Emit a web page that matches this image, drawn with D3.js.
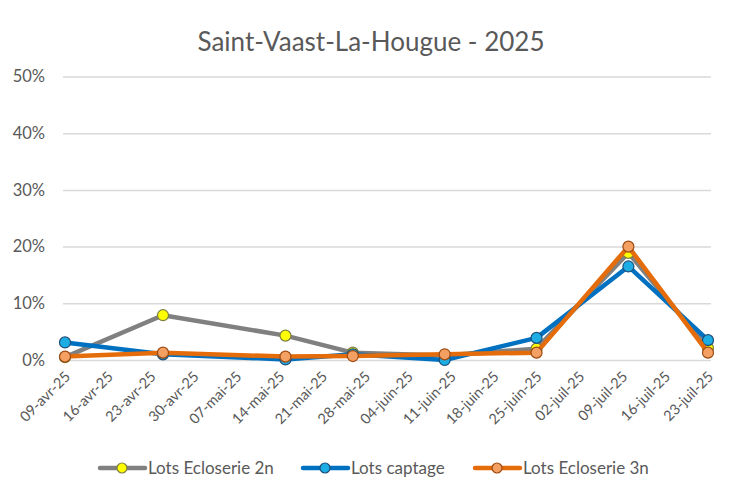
<!DOCTYPE html>
<html>
<head>
<meta charset="utf-8">
<script src="https://cdn.jsdelivr.net/npm/d3@7"></script>
<style>
    body { margin: 0; background: #fff; }
    text { font-family: Lato, "Open Sans", sans-serif; fill: #595959; }
</style>
</head>
<body>
<svg id="chart" width="744" height="498"></svg>
<script>
// sample dates and values (percent)
const sampleDates  = ["2025-04-09", "2025-04-25", "2025-05-15", "2025-05-26", "2025-06-10", "2025-06-25", "2025-07-10", "2025-07-23"];
const ecloserie2n  = [0.5, 7.9, 4.3, 1.3, 0.8, 2.0, 18.9, 2.1];
const captage      = [3.1, 1.0, 0.1, 1.0, 0.0, 3.9, 16.5, 3.5];
const ecloserie3n  = [0.6, 1.3, 0.6, 0.7, 1.0, 1.3, 20.0, 1.3];

const tickDates  = ["2025-04-09", "2025-04-16", "2025-04-23", "2025-04-30", "2025-05-07", "2025-05-14", "2025-05-21", "2025-05-28",
                    "2025-06-04", "2025-06-11", "2025-06-18", "2025-06-25", "2025-07-02", "2025-07-09", "2025-07-16", "2025-07-23"];
const tickLabels = ["09-avr-25", "16-avr-25", "23-avr-25", "30-avr-25", "07-mai-25", "14-mai-25", "21-mai-25", "28-mai-25",
                    "04-juin-25", "11-juin-25", "18-juin-25", "25-juin-25", "02-juil-25", "09-juil-25", "16-juil-25", "23-juil-25"];
const yTicks     = [0, 10, 20, 30, 40, 50];

const series = [
    { name: "Lots Ecloserie 2n", values: ecloserie2n, line: "#808080", fill: "#FFFF00", stroke: "#7F7F3F" },
    { name: "Lots captage",      values: captage,     line: "#0070C0", fill: "#1CADE4", stroke: "#1F4E79" },
    { name: "Lots Ecloserie 3n", values: ecloserie3n, line: "#E46C0A", fill: "#F4A062", stroke: "#9C4A12" }
];

const parse = d3.timeParse("%Y-%m-%d");
const svg = d3.select("#chart");

const plot = { left: 63, right: 711, top: 76.5, bottom: 360 };

const x = d3.scaleTime()
    .domain([parse(tickDates[0]), parse(tickDates[tickDates.length - 1])])
    .range([65, 708]);

const y = d3.scaleLinear()
    .domain([0, 50])
    .range([plot.bottom, plot.top]);

// title
svg.append("text")
    .attr("x", 371)
    .attr("y", 51)
    .attr("text-anchor", "middle")
    .style("font-size", "26px")
    .text("Saint-Vaast-La-Hougue - 2025");

// gridlines + y labels
const yAxis = d3.axisLeft(y)
    .tickValues(yTicks)
    .tickSize(-(plot.right - plot.left))
    .tickPadding(18)
    .tickFormat(d => d + "%");

const gy = svg.append("g")
    .attr("transform", `translate(${plot.left},0)`)
    .call(yAxis);
gy.select(".domain").remove();
gy.selectAll("line").attr("stroke", "#D9D9D9").attr("stroke-width", 1.5);
gy.selectAll("text").style("font-size", "16.5px").attr("fill", "#595959");

// x labels (rotated)
const xAxis = d3.axisBottom(x)
    .tickValues(tickDates.map(parse))
    .tickSize(0)
    .tickFormat((d, i) => tickLabels[i]);

const gx = svg.append("g")
    .attr("transform", `translate(0,${plot.bottom})`)
    .call(xAxis);
gx.select(".domain").remove();
gx.selectAll("text")
    .style("font-size", "14.5px")
    .attr("fill", "#595959")
    .attr("text-anchor", "end")
    .attr("dy", "0.35em")
    .attr("transform", "translate(2,14) rotate(-45)")
    .attr("y", 0)
    .attr("x", 0);

// lines
const line = d3.line()
    .x((d, i) => x(parse(sampleDates[i])))
    .y(d => y(d));

series.forEach(s => {
    svg.append("path")
        .datum(s.values)
        .attr("fill", "none")
        .attr("stroke", s.line)
        .attr("stroke-width", 4.5)
        .attr("stroke-linejoin", "round")
        .attr("d", line);

    svg.selectAll(null)
        .data(s.values)
        .enter().append("circle")
        .attr("cx", (d, i) => x(parse(sampleDates[i])))
        .attr("cy", d => y(d))
        .attr("r", 5.5)
        .attr("fill", s.fill)
        .attr("stroke", s.stroke)
        .attr("stroke-width", 1.2);
});

// legend
const legendX = [100, 303, 475];
const legend = svg.append("g");
series.forEach((s, i) => {
    const g = legend.append("g").attr("transform", `translate(${legendX[i]},468)`);
    g.append("line")
        .attr("x1", 0).attr("x2", 45)
        .attr("stroke", s.line)
        .attr("stroke-width", 4.5)
        .attr("stroke-linecap", "round");
    g.append("circle")
        .attr("cx", 22)
        .attr("r", 5)
        .attr("fill", s.fill)
        .attr("stroke", s.stroke)
        .attr("stroke-width", 1.2);
    g.append("text")
        .attr("x", 48)
        .attr("dy", "0.35em")
        .style("font-size", "17px")
        .text(s.name);
});
</script>
</body>
</html>
